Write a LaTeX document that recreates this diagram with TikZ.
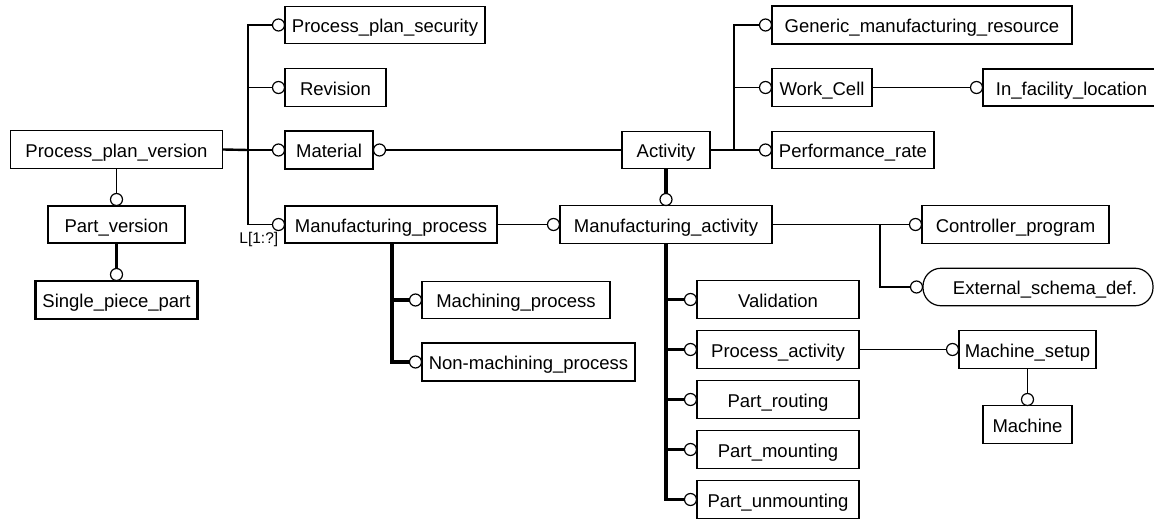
\documentclass[tikz,border=0pt]{standalone}
\usepackage{fontspec}
\setmainfont{Liberation Sans}
\pgfdeclarelayer{bg}
\pgfsetlayers{bg,main}
\begin{document}
\begin{tikzpicture}[x=1pt,y=-1pt,
  ent/.style={draw, line width=1.2pt, inner sep=0pt, font=\fontsize{18.5}{22}\selectfont, minimum height=37.5pt, text height=15.5pt, text depth=0pt},
  bent/.style={ent, line width=2.2pt},
  oc/.style={circle, draw, fill=white, line width=1.2pt, minimum size=12pt, inner sep=0pt},
  rel/.style={line width=1.3pt},
  relb/.style={line width=2.4pt},
  sub/.style={line width=3.6pt},
]
\useasboundingbox (0,0) rectangle (1154,519);

% entities
\node[ent, minimum width=212pt] (ppv) at (116.5,149.5) {Process\_plan\_version};
\node[bent, minimum width=137pt] (pv) at (116.5,224.5) {Part\_version};
\node[bent, minimum width=162pt] (spp) at (116.5,300) {Single\_piece\_part};
\node[ent, minimum width=200pt] (pps) at (385,25) {Process\_plan\_security};
\node[ent, minimum width=101pt] (rev) at (335.5,87.5) {Revision};
\node[bent, minimum width=88pt] (mat) at (329,150) {Material};
\node[bent, minimum width=212pt] (mp) at (391,224.5) {Manufacturing\_process};
\node[ent, minimum width=88pt] (act) at (666,150) {Activity};
\node[ent, minimum width=212pt] (ma) at (666,224.5) {Manufacturing\_activity};
\node[bent, minimum width=300pt] (gmr) at (922,25) {Generic\_manufacturing\_resource};
\node[ent, minimum width=100pt] (wc) at (822,87.5) {Work\_Cell};
\node[bent, minimum width=177pt] (ifl) at (1071.5,87.5) {In\_facility\_location};
\node[ent, minimum width=162pt] (pr) at (853,150) {Performance\_rate};
\node[ent, minimum width=187pt] (cp) at (1015.5,224.5) {Controller\_program};
\node[ent, rounded corners=18pt, minimum width=230pt] (esd) at (1038,287) {\hspace*{14pt}External\_schema\_def.};
\node[ent, minimum width=188pt] (mach) at (516,300) {Machining\_process};
\node[bent, minimum width=213pt] (nmp) at (528.5,362) {Non-machining\_process};
\node[ent, minimum width=162pt] (val) at (778,299.5) {Validation};
\node[ent, minimum width=162pt] (pa) at (778,349.5) {Process\_activity};
\node[ent, minimum width=162pt] (prt) at (778,399.5) {Part\_routing};
\node[ent, minimum width=162pt] (pm) at (778,449.5) {Part\_mounting};
\node[ent, minimum width=162pt] (pu) at (778,499.5) {Part\_unmounting};
\node[ent, minimum width=137pt] (ms) at (1027.5,349.5) {Machine\_setup};
\node[ent, minimum width=89pt] (m) at (1027.5,424.5) {Machine};

\node[font=\fontsize{15.5}{18}\selectfont, inner sep=0pt] (lbl) at (258.8,239) {L[1:?]};

% circles
\node[oc] (c-pps) at (278.5,25) {};
\node[oc] (c-rev) at (278.5,87.5) {};
\node[oc] (c-mat) at (278.5,150) {};
\node[oc] (c-mp) at (278.5,224.5) {};
\node[oc] (c-matr) at (379.5,150) {};
\node[oc] (c-pv) at (116.5,199.5) {};
\node[oc] (c-spp) at (116.5,274.5) {};
\node[oc] (c-ma) at (666,199.5) {};
\node[oc] (c-mal) at (553.5,224.5) {};
\node[oc] (c-gmr) at (765.5,25) {};
\node[oc] (c-wc) at (765.5,87.5) {};
\node[oc] (c-pr) at (765.5,150) {};
\node[oc] (c-ifl) at (976.5,87.5) {};
\node[oc] (c-cp) at (915.5,224.5) {};
\node[oc] (c-esd) at (916.5,287) {};
\node[oc] (c-mach) at (415.5,300) {};
\node[oc] (c-nmp) at (415.5,362) {};
\node[oc] (c-val) at (690.5,299.5) {};
\node[oc] (c-pa) at (690.5,349.5) {};
\node[oc] (c-prt) at (690.5,399.5) {};
\node[oc] (c-pm) at (690.5,449.5) {};
\node[oc] (c-pu) at (690.5,499.5) {};
\node[oc] (c-ms) at (952.5,349.5) {};
\node[oc] (c-m) at (1027.5,399.5) {};

% junctions
\coordinate (b1) at (248,150);
\coordinate (b2) at (734,150);
\coordinate (b3) at (392,243);
\coordinate (b4) at (880,224.5);

\begin{pgfonlayer}{bg}
% Process_plan_version attributes
\draw[relb] (ppv.east) -- (b1);
\draw[rel] (c-pps.west) -| (b1) |- (c-mp.west);
\draw[rel] (c-rev.west) -- (c-rev.west -| b1);
\draw[rel] (b1) -- (c-mat.west);
\draw[rel] (ppv.south) -- (c-pv.north);
\draw[sub] (pv.south) -- (c-spp.north);
% Material - Activity
\draw[rel] (c-matr.east) -- (act.west);
% Activity attributes
\draw[relb] (act.east) -- (b2);
\draw[rel] (c-gmr.west) -| (b2);
\draw[rel] (c-wc.west) -- (c-wc.west -| b2);
\draw[rel] (b2) -- (c-pr.west);
\draw[rel] (wc.east) -- (c-ifl.west);
% subtypes
\draw[sub] (act.south) -- (c-ma.north);
\draw[rel] (mp.east) -- (c-mal.west);
\draw[sub] (b3) |- (c-nmp.west);
\draw[sub] (c-mach.west -| b3) -- (c-mach.west);
\draw[sub] (ma.south) |- (c-pu.west);
\draw[sub] (c-val.west -| ma.south) -- (c-val.west);
\draw[sub] (c-pa.west -| ma.south) -- (c-pa.west);
\draw[sub] (c-prt.west -| ma.south) -- (c-prt.west);
\draw[sub] (c-pm.west -| ma.south) -- (c-pm.west);
% Manufacturing_activity attributes
\draw[rel] (ma.east) -- (c-cp.west);
\draw[rel] (b4) |- (c-esd.west);
\draw[rel] (pa.east) -- (c-ms.west);
\draw[rel] (ms.south) -- (c-m.north);
\end{pgfonlayer}
\end{tikzpicture}
\end{document}
